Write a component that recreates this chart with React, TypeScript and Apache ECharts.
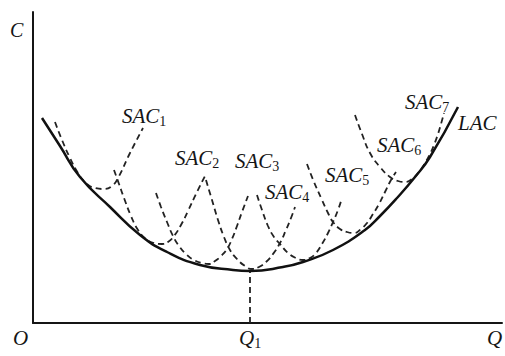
import React, { useEffect, useRef } from "react";
import * as echarts from "echarts";

// Values: [Q, C] in chart units (Q: 0..469, C: 0..311)
const LAC: number[][] = [
  [9, 205], [27, 177], [47, 146], [77, 116], [107, 88], [134, 71], [167, 58],
  [200, 53], [217, 52], [250, 56], [270, 61], [300, 73], [332, 93], [347, 107],
  [364, 125], [382, 146], [397, 166], [425, 216],
];
const SAC1: number[][] = [
  [22, 201], [29, 183], [37, 165], [45, 150], [53, 140], [62, 135], [71, 134],
  [79, 137], [85, 145], [97, 170], [110, 195],
];
const SAC2: number[][] = [
  [81, 153], [86, 139], [91, 125], [98, 107], [105, 93], [113, 84], [121, 80],
  [129, 79], [135, 81], [141, 87], [148, 98], [155, 112], [163, 129], [172, 147],
];
const SAC3: number[][] = [
  [123, 130], [128, 116], [134, 101], [140, 87], [146, 77], [153, 69], [161, 63],
  [169, 60], [176, 59], [182, 62], [188, 67], [194, 74], [199, 84], [204, 97],
  [209, 111], [215, 127],
];
const SAC4: number[][] = [
  [173, 143], [179, 123], [185, 103], [191, 86], [197, 73], [204, 64], [212, 57],
  [219, 54], [226, 56], [233, 61], [240, 69], [247, 80], [253, 93], [258, 105],
  [262, 116],
];
const SAC5: number[][] = [
  [224, 128], [229, 113], [235, 97], [241, 86], [247, 79], [255, 70], [263, 65],
  [270, 63], [277, 65], [283, 70], [289, 79], [295, 90], [300, 101], [305, 113],
  [309, 125],
];
const SAC6: number[][] = [
  [274, 159], [281, 141], [289, 123], [295, 110], [300, 101], [307, 94], [314, 91],
  [321, 90], [328, 94], [334, 100], [340, 109], [346, 119], [352, 131], [358, 143],
  [363, 151],
];
const SAC7: number[][] = [
  [322, 208], [329, 189], [337, 170], [347, 156], [357, 146], [365, 142], [372, 141],
  [379, 144], [386, 151], [392, 160], [397, 169], [401, 178], [405, 189], [408, 199],
  [411, 210],
];
const SAC_CURVES = [SAC1, SAC2, SAC3, SAC4, SAC5, SAC6, SAC7];
const SAC_SUBS = ["1", "2", "3", "4", "5", "6", "7"];
const Q_MAX = 469;
const C_MAX = 311;

const INK = "#151515";
const FAMILY = "'Liberation Serif', 'Times New Roman', serif";

// label placements (pixels)
const SAC_LABEL_POS: number[][] = [
  [122, 116], [175, 158], [235, 161], [265, 192], [325, 175], [377, 145], [405, 102],
];

function subLabel(main: string, sub: string, x: number, y: number) {
  return {
    type: "text",
    x,
    y,
    silent: true,
    style: {
      text: `{m|${main}}{s|${sub}}`,
      textAlign: "left",
      textVerticalAlign: "middle",
      rich: {
        m: { fontSize: 21, fontStyle: "italic", fontFamily: FAMILY, lineHeight: 23, fill: INK, color: INK },
        s: { fontSize: 14, fontFamily: FAMILY, lineHeight: 14, padding: [10, 0, 0, 0], fill: INK, color: INK },
      },
    },
  };
}

function plainLabel(text: string, x: number, y: number, size = 21) {
  return {
    type: "text",
    x,
    y,
    silent: true,
    style: {
      text,
      fill: INK,
      font: `italic ${size}px ${FAMILY}`,
      textAlign: "left",
      textVerticalAlign: "middle",
    },
  };
}

export default function App() {
  const ref = useRef<HTMLDivElement>(null);
  useEffect(() => {
    document.body.style.margin = "0";
    const chart = echarts.init(ref.current!, null, { renderer: "svg" });
    // Q1: point of minimum LAC
    const q1 = LAC.reduce((a, b) => (b[1] < a[1] ? b : a));
    const dashed = { color: "#222", width: 1.8, type: [6, 4] as number[] };
    const series: any[] = SAC_CURVES.map((d, i) => ({
      type: "line",
      name: "SAC" + SAC_SUBS[i],
      data: d,
      showSymbol: false,
      smooth: 0.5,
      lineStyle: dashed,
      silent: true,
      z: 2,
    }));
    series.push({
      type: "line",
      name: "LAC",
      data: LAC,
      showSymbol: false,
      smooth: 0.5,
      lineStyle: { color: "#111", width: 2.5 },
      silent: true,
      z: 3,
    });
    series.push({
      type: "line",
      name: "Q1",
      data: [[q1[0], 0], [q1[0], q1[1]]],
      showSymbol: false,
      lineStyle: dashed,
      silent: true,
      z: 2,
    });
    const graphics: any[] = [
      plainLabel("C", 10, 30, 20),
      plainLabel("O", 13, 338),
      plainLabel("Q", 487, 338),
      plainLabel("LAC", 458, 123),
      subLabel("Q", "1", 239, 338),
      ...SAC_SUBS.map((s, i) => subLabel("SAC", s, SAC_LABEL_POS[i][0], SAC_LABEL_POS[i][1])),
    ];
    chart.setOption({
      animation: false,
      backgroundColor: "#fff",
      grid: { left: 33, top: 12, width: 469, height: 311, containLabel: false },
      xAxis: {
        type: "value",
        min: 0,
        max: Q_MAX,
        axisLine: { show: true, onZero: false, lineStyle: { color: INK, width: 2 } },
        axisTick: { show: false },
        axisLabel: { show: false },
        splitLine: { show: false },
      },
      yAxis: {
        type: "value",
        min: 0,
        max: C_MAX,
        axisLine: { show: true, onZero: false, lineStyle: { color: INK, width: 2 } },
        axisTick: { show: false },
        axisLabel: { show: false },
        splitLine: { show: false },
      },
      series,
      graphic: graphics,
    });
    return () => chart.dispose();
  }, []);
  return (
    <div
      ref={ref}
      style={{ width: 505, height: 356, position: "absolute", left: 0, top: 0 }}
    />
  );
}
